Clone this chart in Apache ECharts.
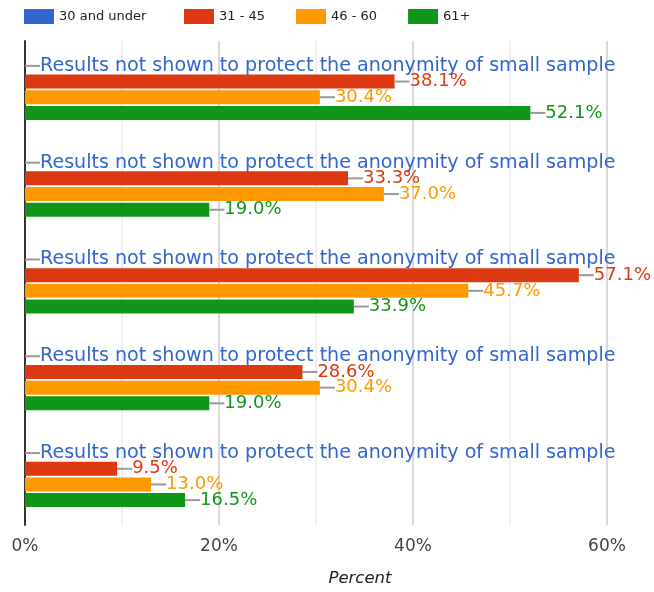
<!DOCTYPE html>
<html>
<head>
<meta charset="utf-8">
<script src="https://cdn.jsdelivr.net/npm/echarts@6/dist/echarts.min.js"></script>
<style>html,body{margin:0;padding:0;background:#fff}#c{width:654px;height:592px}</style>
</head>
<body>
<div id="c"></div>
<script>
const categories = ['Group 1', 'Group 2', 'Group 3', 'Group 4', 'Group 5'];
const seriesNames = ['30 and under', '31 - 45', '46 - 60', '61+'];
const under30 = [0, 0, 0, 0, 0];
const age31to45 = [38.1, 33.3, 57.1, 28.6, 9.5];
const age46to60 = [30.4, 37.0, 45.7, 30.4, 13.0];
const age61plus = [52.1, 19.0, 33.9, 19.0, 16.5];
const xTicks = [0, 20, 40, 60];
const suppressedText = 'Results not shown to protect the anonymity of small sample';

const colors = ['#3366cc', '#dc3912', '#ff9900', '#109618'];
const FONT = 'DejaVu Sans';

function labelFor(color, fmt, size) {
  return {
    show: true,
    position: 'right',
    distance: 0,
    fontFamily: FONT,
    formatter: p => '{l|}{t|' + fmt(p) + '}',
    rich: {
      l: { width: 15, height: 2, backgroundColor: '#999999' },
      t: { color: color, fontSize: size, fontFamily: FONT }
    }
  };
}

function mkSeries(i, data, fmt, size) {
  return {
    name: seriesNames[i],
    type: 'bar',
    data: data,
    barWidth: 14,
    barGap: '12%',
    itemStyle: { color: colors[i] },
    label: labelFor(colors[i], fmt, size),
    silent: true,
    animation: false
  };
}

const pct = p => p.value.toFixed(1) + '%';

const chart = echarts.init(document.getElementById('c'));
chart.setOption({
  animation: false,
  color: colors,
  legend: [
    {
      data: [seriesNames[0]],
      left: 24, top: 9, padding: 0,
      itemWidth: 30, itemHeight: 15,
      icon: 'rect',
      textStyle: { fontSize: 13, color: '#222', fontFamily: FONT }
    },
    {
      data: seriesNames.slice(1),
      left: 184, top: 9, padding: 0,
      itemWidth: 30, itemHeight: 15, itemGap: 31,
      icon: 'rect',
      textStyle: { fontSize: 13, color: '#222', fontFamily: FONT }
    }
  ],
  grid: { left: 25, right: 47, top: 41, bottom: 64, containLabel: false },
  xAxis: {
    type: 'value',
    min: 0, max: 60, interval: 20,
    axisLine: { show: false },
    axisTick: { show: false },
    axisLabel: {
      formatter: v => xTicks.includes(v) ? v + '%' : '',
      fontSize: 17, color: '#444', fontFamily: FONT, margin: 13
    },
    splitLine: { show: true, lineStyle: { color: '#cccccc', width: 1.5 } },
    minorTick: { show: false, splitNumber: 2 },
    minorSplitLine: { show: true, lineStyle: { color: '#ebebeb', width: 1.5 } },
    name: 'Percent',
    nameLocation: 'middle',
    nameGap: 45,
    nameTextStyle: { fontStyle: 'italic', fontSize: 16.5, color: '#222', fontFamily: FONT, padding: [0, 0, 0, 88] }
  },
  yAxis: {
    type: 'category',
    data: categories,
    inverse: true,
    axisLine: { show: true, lineStyle: { color: '#333', width: 2 } },
    axisTick: { show: false },
    axisLabel: { show: false },
    splitLine: { show: false }
  },
  series: [
    mkSeries(0, under30, () => suppressedText, 19.1),
    mkSeries(1, age31to45, pct, 18),
    mkSeries(2, age46to60, pct, 18),
    mkSeries(3, age61plus, pct, 18)
  ]
});
</script>
</body>
</html>
